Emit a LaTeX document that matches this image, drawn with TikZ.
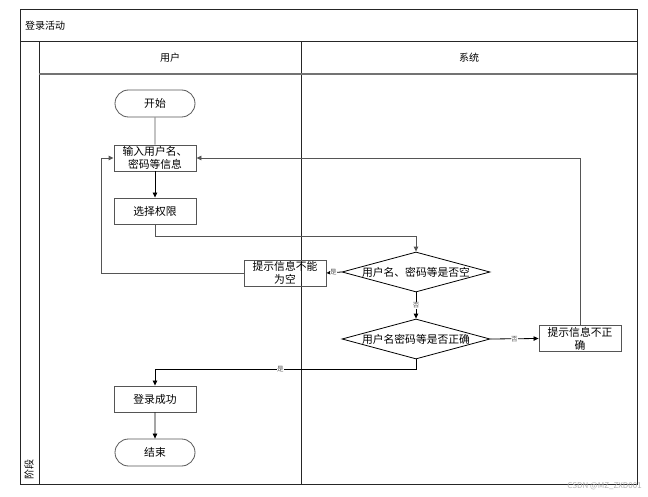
\documentclass[tikz,border=0pt]{standalone}
\usepackage{fontspec}
\setmainfont{Noto Sans CJK SC}
\usetikzlibrary{arrows.meta,shapes.geometric,shapes.misc}
\definecolor{edge}{HTML}{555555}
\tikzset{
  pbox/.style={draw=edge, line width=0.9pt, minimum width=82pt, minimum height=26pt, inner sep=0.5pt, font=\fontsize{10.8}{12.8}\selectfont, align=center, text width=80pt},
  term/.style={draw=edge, line width=0.8pt, rounded rectangle, minimum width=82pt, minimum height=27pt, inner sep=1pt, font=\fontsize{10.8}{11.5}\selectfont},
  dec/.style={draw=black, line width=0.8pt, diamond, aspect=3.7, minimum width=148pt, minimum height=40pt, inner sep=0pt, font=\fontsize{10.8}{11.5}\selectfont},
  conn/.style={line width=0.8pt, draw=black, -{Triangle[length=5pt,width=4.5pt]}},
  gconn/.style={line width=0.9pt, draw=edge, -{Triangle[length=5pt,width=4.5pt]}},
  lbl/.style={font=\fontsize{6.5}{7}\selectfont, fill=white, inner sep=0.5pt, text=edge},
  frame/.style={line width=1pt, draw=black!85},
  head/.style={font=\fontsize{10}{11}\selectfont}
}
\begin{document}
\begin{tikzpicture}[x=1pt,y=-1pt]
\useasboundingbox (0,0) rectangle (648,497);
\fill[white] (0,0) rectangle (648,497);
% frame
\draw[frame] (20,10) rectangle (637,484);
\draw[frame] (20,42) -- (637,42);
\draw[frame] (39,42) -- (39,484);
\draw[frame] (301,42) -- (301,484);
\draw[line width=1.6pt, draw=black!55] (39,74) -- (637,74);
\node[head, anchor=west, inner sep=0pt] (title) at (25,26) {登录活动};
\node[head] (lane1) at (170,58) {用户};
\node[head] (lane2) at (469,58) {系统};
\node[head, rotate=90, inner sep=0pt] (phase) at (29,469) {阶段};
% nodes
\node[term] (start) at (155,103.5) {开始};
\node[pbox] (input) at (155,158) {输入用户名、\\密码等信息};
\node[pbox] (choose) at (155,211) {选择权限};
\node[pbox] (empty) at (285,273) {提示信息不能\\为空};
\node[dec] (d1) at (416,272) {用户名、密码等是否空};
\node[dec] (d2) at (416,339) {用户名密码等是否正确};
\node[pbox] (wrong) at (580,338.5) {提示信息不正\\确};
\node[pbox] (ok) at (155,399) {登录成功};
\node[term] (end) at (155,452.5) {结束};
% connectors
\draw[line width=0.8pt, draw=edge] (start) -- (input);
\draw[conn] (input) -- (choose);
\draw[gconn] (choose.south) |- (416,236) -- (d1.north);
\draw[conn] (d1.west) -- node[lbl, pos=0.55] {是} (empty.east);
\draw[gconn] (empty.west) -- (101,273) |- (input.west);
\draw[conn] (d1.south) -- node[lbl] {否} (d2.north);
\draw[conn] (d2.east) -- node[lbl] {否} (wrong.west);
\draw[gconn] (wrong.north) |- (input.east);
\draw[conn] (d2.south) -- (416,369) -- node[lbl, pos=0.52] {是} (155,369) -- (ok.north);
\draw[conn] (ok) -- (end);
\node[anchor=east, font=\fontsize{8}{9}\selectfont, text=black!30, inner sep=0pt] (wm) at (642,486) {CSDN @MZ\_ZXD001};
\end{tikzpicture}
\end{document}
